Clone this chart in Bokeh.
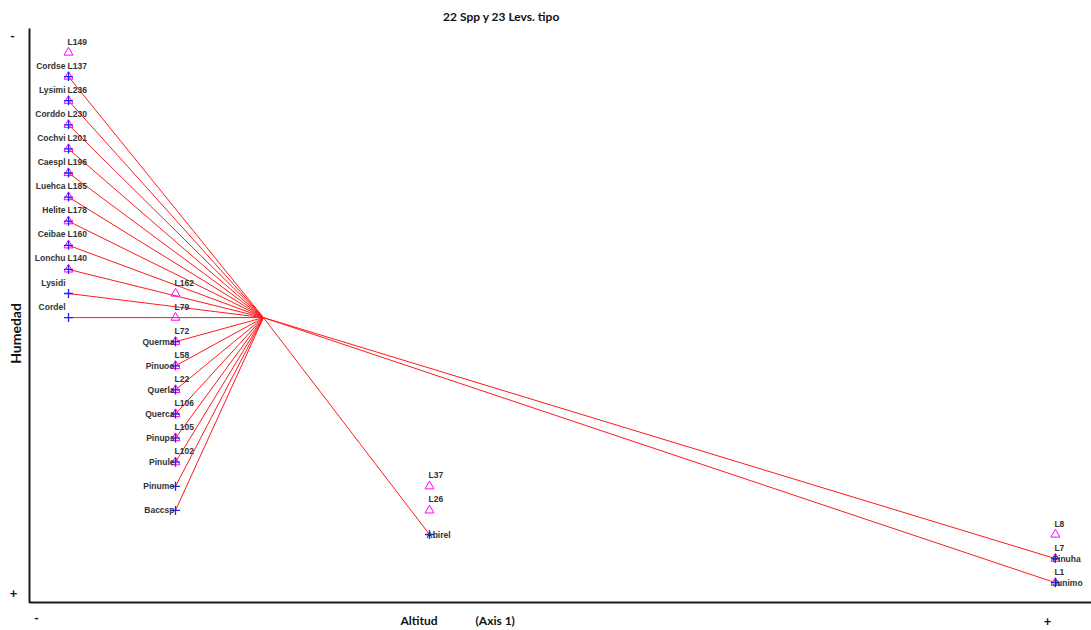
import math
from bokeh.plotting import figure
from bokeh.models import ColumnDataSource, Range1d, Label
from bokeh.core.properties import value
from bokeh.embed import file_html
from bokeh.resources import INLINE

# ---------------- data (ordination scores, arbitrary units) ----------------
TITLE = "22 Spp y 23 Levs. tipo"
X_LABEL = "Altitud"
X_LABEL2 = "(Axis 1)"
Y_LABEL = "Humedad"

# joint-plot origin of the species vectors
CENTER_X = 8.09
CENTER_Y = 11.0

species = ["Cordse", "Lysimi", "Corddo", "Cochvi", "Caespl", "Luehca", "Helite",
           "Ceibae", "Lonchu", "Lysidi", "Cordel",
           "Querma", "Pinuoo", "Querla", "Querca", "Pinups", "Pinule", "Pinumo", "Baccsp",
           "Abirel",
           "Pinuha", "Junimo"]
species_x = [0.0] * 11 + [4.44] * 8 + [14.98] + [40.95, 40.95]
species_y = [1, 2, 3, 4, 5, 6, 7, 8, 9, 10, 11,
             12, 13, 14, 15, 16, 17, 18, 19,
             20,
             21, 22]

levels = ["L149", "L137", "L236", "L230", "L201", "L196", "L185", "L178", "L160", "L140",
          "L162", "L79", "L72", "L58", "L22", "L106", "L105", "L102",
          "L37", "L26",
          "L8", "L7", "L1"]
levels_x = [0.0] * 10 + [4.44] * 8 + [14.98] * 2 + [40.95] * 3
levels_y = [0, 1, 2, 3, 4, 5, 6, 7, 8, 9,
            10, 11, 12, 13, 14, 15, 16, 17,
            18, 19,
            20, 21, 22]

# ---------------- figure ----------------
PX = 24.1  # pixels per score unit
X0, Y0 = 68.0, 52.0  # canvas pixel of score (0, 0)

def sx(px):
    return (px - X0) / PX

def sy(py):
    return (py - Y0) / PX

W, H = 1091, 630
p = figure(width=W, height=H, output_backend="svg", toolbar_location=None,
           x_range=Range1d(sx(0), sx(W)), y_range=Range1d(sy(H), sy(0)),
           x_axis_type=None, y_axis_type=None,
           min_border_left=0, min_border_top=0, min_border_bottom=0, min_border_right=0)
p.outline_line_color = None
p.xgrid.visible = False
p.ygrid.visible = False
p.background_fill_color = "white"
p.border_fill_color = "white"

# axis frame (left and bottom lines of the plotting area)
AX_L, AX_T, AX_B = sx(29), sy(28), sy(602)
AX_R = sx(W)
p.line(x=[AX_L, AX_L, AX_R], y=[AX_T, AX_B, AX_B], line_color="#1a1a1a", line_width=2)

# vectors from origin to each species
seg = ColumnDataSource(dict(x0=[CENTER_X] * len(species), y0=[CENTER_Y] * len(species),
                            x1=species_x, y1=species_y))
p.segment(x0="x0", y0="y0", x1="x1", y1="y1", source=seg, line_color="#ff1a1a", line_width=1)

lev_src = ColumnDataSource(dict(x=levels_x, y=levels_y, name=levels))
sp_src = ColumnDataSource(dict(x=species_x, y=species_y, name=species))

p.scatter(x="x", y="y", source=lev_src, marker="triangle", size=9,
          fill_color=None, line_color="#ff00ff", line_width=1)
p.scatter(x="x", y="y", source=sp_src, marker="cross", size=9,
          line_color="#1f1fff", line_width=1.3)

FONT = value("Liberation Sans")
LBL = dict(text_font=FONT, text_font_size="8.5px", text_font_style="bold", text_color="#333333")

# level labels: above the marker, left aligned
p.text(x="x", y="y", text="name", source=lev_src, x_offset=-1, y_offset=-11,
       text_align="left", text_baseline="middle", **LBL)

# species labels: placement by column
g1 = [i for i, x in enumerate(species_x) if x < 1]
g2 = [i for i, x in enumerate(species_x) if 1 <= x < 10]
g3 = [i for i, x in enumerate(species_x) if x >= 10]

def sub(idx):
    return ColumnDataSource(dict(x=[species_x[i] for i in idx], y=[species_y[i] for i in idx],
                                 name=[species[i] for i in idx]))

p.text(x="x", y="y", text="name", source=sub(g1), x_offset=-3, y_offset=-11,
       text_align="right", text_baseline="middle", **LBL)
p.text(x="x", y="y", text="name", source=sub(g2), x_offset=-1, y_offset=0,
       text_align="right", text_baseline="middle", **LBL)
p.text(x="x", y="y", text="name", source=sub(g3), x_offset=-3, y_offset=0,
       text_align="left", text_baseline="middle", **LBL)

# ---------------- outer texts ----------------
HF = dict(text_font="Lato", text_font_style="bold", text_color="#111111")

def lab(txt, px, py, size, align="center", angle=0.0):
    p.add_layout(Label(x=sx(px), y=sy(py), text=txt, text_align=align, text_baseline="middle",
                       angle=angle, text_font_size=size, **HF))

lab(TITLE, 501, 16, "12px")
lab(Y_LABEL, 15, 333, "14px", angle=math.pi / 2)
lab("-", 12, 35, "13px")
lab("+", 13, 592, "13px")
lab("-", 36, 617, "13px")
lab("+", 1047, 620, "13px")
lab(X_LABEL, 400, 620, "12px", align="left")
lab(X_LABEL2, 475, 620, "12px", align="left")

open("out.html", "w").write(file_html(p, INLINE))
